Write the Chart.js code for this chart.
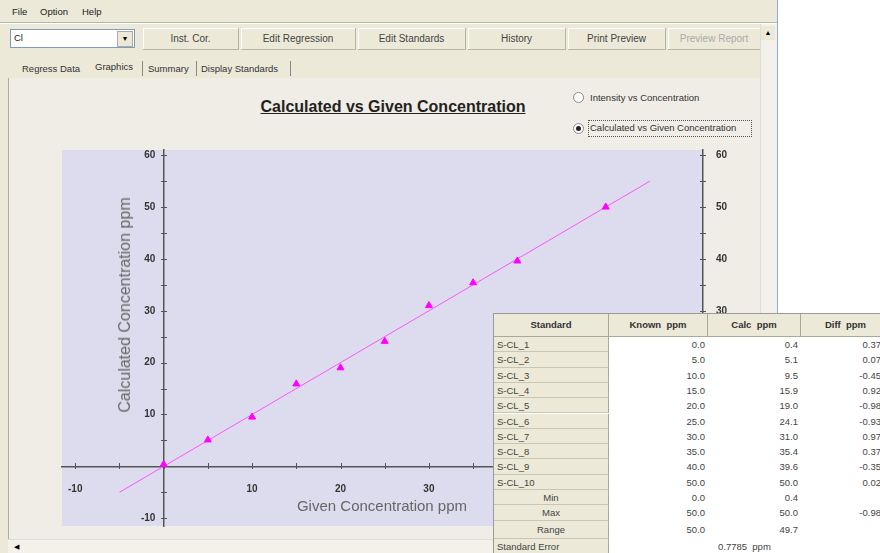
<!DOCTYPE html>
<html><head><meta charset="utf-8">
<script src="https://cdn.jsdelivr.net/npm/chart.js@4.4.1/dist/chart.umd.min.js"></script>
<style>
body{margin:0;width:880px;height:553px;overflow:hidden;background:#fff;font-family:"Liberation Sans",Arial,sans-serif;font-size:10px;color:#222;position:relative}
.a{position:absolute;white-space:nowrap}
#win{left:0;top:0;width:777px;height:553px;background:#ece9d8;border-right:1px solid #8fa8e0}
.btn{top:28px;height:21px;line-height:21px;text-align:center;background:#ece9d8;border-right:1px solid #b9b5a4;border-bottom:1px solid #b9b5a4;box-shadow:inset 1px 1px 0 #fff;font-size:10px;color:#444}
.tab{top:63px;font-size:9.5px;color:#333}
.sep{top:61px;width:1px;height:15px;background:#888}
#panel{left:8px;top:78px;width:752px;height:461px;background:#efede5;border-left:1px solid #b0ad9e}
.radio{width:9px;height:9px;border-radius:50%;background:#fff;border:1px solid #8a8a8a}
#tbl{left:493px;top:313px;width:400px;height:240px;background:#fff;border-top:1px solid #9a9a9a;border-left:1px solid #9a9a9a}
.hc{height:22px;line-height:22px;text-align:center;background:#ece9d8;border-right:1px solid #aca899;border-bottom:1px solid #aca899;font-size:9.5px;color:#333;font-weight:bold}
.lc{background:#ece9d8;border-right:1px solid #aca899;border-bottom:1px solid #c9c6b6;font-size:9.5px;color:#444;padding-left:3px;box-sizing:border-box}
.nc{text-align:right;font-size:9.5px;color:#444;box-sizing:border-box;padding-right:3px}
</style></head>
<body>
<div id="win" class="a"></div>
<div class="a" style="left:12px;top:6px;font-size:9.5px;color:#222">File</div>
<div class="a" style="left:40px;top:6px;font-size:9.5px;color:#222">Option</div>
<div class="a" style="left:82px;top:6px;font-size:9.5px;color:#222">Help</div>
<div class="a" style="left:0;top:22px;width:777px;height:1px;background:#b9b5a4"></div>
<div class="a" style="left:0;top:23px;width:777px;height:1px;background:#fff"></div>
<div class="a" style="left:10px;top:29px;width:123px;height:17px;background:#fff;border:1px solid #7f9db9"></div>
<div class="a" style="left:14px;top:32px;font-size:9.5px;color:#222">Cl</div>
<div class="a" style="left:117px;top:31px;width:14px;height:14px;background:#ece9d8;border:1px solid #aaa;font-size:7px;text-align:center;line-height:14px;color:#000">▼</div>
<div class="a btn" style="left:143px;width:95px">Inst. Cor.</div>
<div class="a btn" style="left:241px;width:114px">Edit Regression</div>
<div class="a btn" style="left:358px;width:107px">Edit Standards</div>
<div class="a btn" style="left:468px;width:97px">History</div>
<div class="a btn" style="left:568px;width:97px">Print Preview</div>
<div class="a btn" style="left:668px;width:92px;color:#aaa">Preview Report</div>
<div class="a tab" style="left:22px">Regress Data</div>
<div class="a tab" style="left:95px;top:61px">Graphics</div>
<div class="a sep" style="left:142px"></div>
<div class="a tab" style="left:148px">Summary</div>
<div class="a sep" style="left:196px"></div>
<div class="a tab" style="left:201px">Display Standards</div>
<div class="a sep" style="left:290px"></div>
<div id="panel" class="a"></div>
<div class="a" style="left:760px;top:24px;width:16px;height:529px;background:#f3f1ea;border-left:1px solid #ddd"></div>
<div class="a" style="left:761px;top:26px;width:14px;height:14px;background:#ece9d8;font-size:7px;text-align:center;line-height:14px;color:#000">▲</div>
<div class="a" style="left:193px;top:98px;width:400px;text-align:center;font-size:16px;font-weight:bold;text-decoration:underline;color:#222">Calculated vs Given Concentration</div>
<div class="a radio" style="left:573px;top:92px"></div>
<div class="a" style="left:590px;top:92px;font-size:9.5px;color:#333">Intensity vs Concentration</div>
<div class="a radio" style="left:573px;top:123px"></div>
<div class="a" style="left:576px;top:126px;width:5px;height:5px;border-radius:50%;background:#222"></div>
<div class="a" style="left:588px;top:120px;width:162px;height:15px;border:1px dotted #555"></div>
<div class="a" style="left:590px;top:122px;font-size:9.5px;color:#333">Calculated vs Given Concentration</div>
<canvas id="c" class="a" width="760" height="413" style="left:0;top:140px"></canvas>
<div class="a" style="left:125px;top:305px;transform:translate(-50%,-50%) rotate(-90deg);font-size:16px;color:#666">Calculated Concentration ppm</div>
<div class="a" style="left:382px;top:505px;transform:translate(-50%,-50%);font-size:15px;color:#666">Given Concentration ppm</div>
<div class="a" style="left:8px;top:539px;width:752px;height:14px;background:#f3f1ea;border-top:1px solid #ddd"></div>
<div class="a" style="left:10px;top:541px;width:12px;height:12px;font-size:7px;line-height:12px;text-align:center;color:#000">◀</div>
<div id="tbl" class="a"></div>
<script>
const standards = ['S-CL_1','S-CL_2','S-CL_3','S-CL_4','S-CL_5','S-CL_6','S-CL_7','S-CL_8','S-CL_9','S-CL_10'];
const givenPpm = [0, 5, 10, 15, 20, 25, 30, 35, 40, 50];
const calcPpm = [0.4, 5.1, 9.5, 15.9, 19.0, 24.1, 31.0, 35.4, 39.6, 50.0];
const diffPpm = ['0.37', '0.07', '-0.45', '0.92', '-0.98', '-0.93', '0.97', '0.37', '-0.35', '0.02'];
const fitGiven = [-5, 55];
const fitCalc = [-5, 55];
const headers = ['Standard', 'Known  ppm', 'Calc  ppm', 'Diff  ppm'];
const summaryLabels = ['Min', 'Max', 'Range'];
const summaryKnown = ['0.0', '50.0', '50.0'];
const summaryCalc = ['0.4', '50.0', '49.7'];
const summaryDiff = ['', '-0.98', ''];
const standardError = '0.7785  ppm';

// ---- table
const tbl = document.getElementById('tbl');
const colX = [0, 115, 214, 307];
const colW = [115, 99, 93, 90];
function cell(cls, x, y, w, h, txt, extra) {
  const d = document.createElement('div');
  d.className = 'a ' + cls;
  d.style.left = x + 'px'; d.style.top = y + 'px';
  d.style.width = w + 'px'; d.style.height = h + 'px';
  d.style.lineHeight = h + 'px';
  if (extra) Object.assign(d.style, extra);
  d.textContent = txt;
  tbl.appendChild(d);
}
headers.forEach((h, i) => cell('hc', colX[i], 0, colW[i] - 1, 22, h, {whiteSpace: 'pre'}));
const rowH = 15.3;
const diffW = 83;
standards.forEach((s, i) => {
  const y = 23 + i * rowH;
  cell('lc', 0, y, colW[0], rowH, s);
  cell('nc', colX[1], y, colW[1], rowH, givenPpm[i].toFixed(1));
  cell('nc', colX[2], y, colW[2], rowH, calcPpm[i].toFixed(1));
  cell('nc', colX[3], y, diffW, rowH, diffPpm[i]);
});
const sumY = [176, 191, 207];
const sumH = [15, 16, 18];
summaryLabels.forEach((s, i) => {
  cell('lc', 0, sumY[i], colW[0], sumH[i], s, {textAlign: 'center', paddingLeft: '0'});
  cell('nc', colX[1], sumY[i], colW[1], sumH[i], summaryKnown[i]);
  cell('nc', colX[2], sumY[i], colW[2], sumH[i], summaryCalc[i]);
  cell('nc', colX[3], sumY[i], diffW, sumH[i], summaryDiff[i]);
});
cell('lc', 0, 225, colW[0], 15, 'Standard Error');
cell('nc', 224, 225, 100, 15, standardError, {textAlign: 'left', whiteSpace: 'pre'});

// ---- chart
const axisMin = -11.5, axisMax = 61;
const labelFor = v => (v !== 0 && v % 10 === 0) ? String(v) : '';
const tickFont = {family: '"Liberation Sans", Arial, sans-serif', size: 10, weight: 'bold'};

const plotBg = {
  id: 'plotBg',
  beforeDraw(chart) {
    const {ctx, chartArea: a} = chart;
    ctx.save();
    ctx.fillStyle = '#dcdcee';
    ctx.fillRect(a.left, a.top, a.right - a.left, a.bottom - a.top);
    ctx.restore();
  }
};
const tickMarks = {
  id: 'tickMarks',
  beforeDatasetsDraw(chart) {
    const {ctx, chartArea: a} = chart;
    const {x, y, y2} = chart.scales;
    const x0 = Math.round(x.getPixelForValue(0));
    const y0 = Math.round(y.getPixelForValue(0));
    ctx.save();
    ctx.strokeStyle = '#555';
    ctx.lineWidth = 1;
    ctx.beginPath();
    x.ticks.forEach(t => { const p = Math.round(x.getPixelForValue(t.value)) + 0.5; ctx.moveTo(p, y0 - 3); ctx.lineTo(p, y0 + 3); });
    y.ticks.forEach(t => { const p = Math.round(y.getPixelForValue(t.value)) + 0.5; ctx.moveTo(x0 - 3, p); ctx.lineTo(x0 + 3, p); });
    const xr = Math.round(a.right);
    y2.ticks.forEach(t => { const p = Math.round(y2.getPixelForValue(t.value)) + 0.5; ctx.moveTo(xr - 3, p); ctx.lineTo(xr + 3, p); });
    ctx.stroke();
    ctx.restore();
  }
};

new Chart(document.getElementById('c'), {
  type: 'scatter',
  data: {
    datasets: [
      {
        data: givenPpm.map((g, i) => ({x: g, y: calcPpm[i]})),
        pointStyle: 'triangle', pointRadius: 4, borderWidth: 1,
        backgroundColor: '#ff00ff', borderColor: '#ff00ff', showLine: false, order: 1
      },
      {
        data: fitGiven.map((g, i) => ({x: g, y: fitCalc[i]})),
        showLine: true, pointRadius: 0, borderColor: '#ff55ff', borderWidth: 1, order: 2
      }
    ]
  },
  options: {
    responsive: false, animation: false, events: [],
    layout: {padding: {left: 62, top: 10, right: 27, bottom: 27}},
    plugins: {legend: {display: false}, tooltip: {enabled: false}},
    scales: {
      x: {
        type: 'linear', position: {y: 0}, min: axisMin, max: axisMax,
        grid: {display: false}, border: {color: '#555', width: 1.5},
        ticks: {stepSize: 5, includeBounds: false, padding: 9, color: '#333', font: tickFont, maxRotation: 0, autoSkip: false, callback: labelFor},
        afterFit(s) { s.paddingLeft = 0; s.paddingRight = 0; }
      },
      y: {
        type: 'linear', position: {x: 0}, min: axisMin, max: axisMax,
        grid: {display: false}, border: {color: '#555', width: 1.5},
        ticks: {stepSize: 5, includeBounds: false, padding: 7, color: '#333', font: tickFont, autoSkip: false, callback: v => { const l = labelFor(v); return l ? l + '   ' : ''; }},
        afterFit(s) { s.paddingTop = 0; s.paddingBottom = 0; }
      },
      y2: {
        type: 'linear', position: 'right', min: axisMin, max: axisMax,
        grid: {display: false}, border: {color: '#555', width: 1.5},
        ticks: {stepSize: 5, includeBounds: false, padding: 5, color: '#333', font: tickFont, autoSkip: false, callback: labelFor},
        afterFit(s) { s.width = 30; s.paddingTop = 0; s.paddingBottom = 0; }
      }
    }
  },
  plugins: [plotBg, tickMarks]
});
</script>
</body></html>
